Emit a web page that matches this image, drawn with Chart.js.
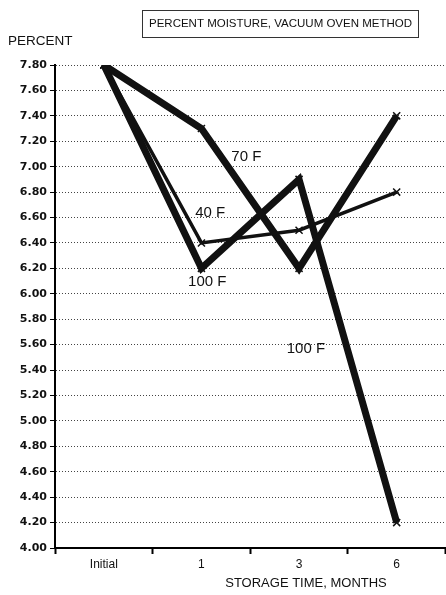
<!DOCTYPE html>
<html>
<head>
<meta charset="utf-8">
<script src="https://cdn.jsdelivr.net/npm/chart.js@4.4.1/dist/chart.umd.min.js"></script>
<style>
  html, body { margin: 0; padding: 0; background: #fff; overflow: hidden; }
  #wrap { width: 446px; height: 595px; overflow: hidden; }
  #chart { display: block; }
</style>
</head>
<body>
<div id="wrap"><canvas id="chart" width="452" height="595"></canvas></div>
<script>
// Chart data
var months = ["Initial", "1", "3", "6"];
var temp40 = [7.80, 6.40, 6.50, 6.80];
var temp70 = [7.80, 7.30, 6.20, 7.40];
var temp100 = [7.80, 6.20, 6.90, 4.20];

// in-chart labels: [text, category position, percent value]
var seriesLabels = [
    ["70 F", 1.46, 7.08],
    ["40 F", 1.09, 6.64],
    ["100 F", 1.06, 6.09],
    ["100 F", 2.07, 5.57]
];

// Extra text: box title, y label, x axis title, series labels
var textPlugin = {
    id: 'textPlugin',
    afterDraw: function(chart) {
        var c = chart.ctx;
        var xs = chart.scales.x, ys = chart.scales.y;
        c.save();
        c.fillStyle = '#111';
        c.textBaseline = 'middle';

        // title box
        c.strokeStyle = '#333';
        c.lineWidth = 1;
        c.strokeRect(142.5, 10.5, 276, 27);
        c.font = '11.5px "Liberation Sans", Arial, sans-serif';
        c.textAlign = 'left';
        c.fillText('PERCENT MOISTURE, VACUUM OVEN METHOD', 149, 24);

        c.font = '13.5px "Liberation Sans", Arial, sans-serif';
        c.fillText('PERCENT', 8, 41);

        c.font = '13px "Liberation Sans", Arial, sans-serif';
        c.textAlign = 'center';
        c.fillText('STORAGE TIME, MONTHS', 306, 583);

        c.font = '15px "Liberation Sans", Arial, sans-serif';
        seriesLabels.forEach(function(l) {
            var x0 = xs.getPixelForValue(Math.floor(l[1]));
            var x1 = xs.getPixelForValue(Math.floor(l[1]) + 1);
            var px = x0 + (x1 - x0) * (l[1] - Math.floor(l[1]));
            c.fillText(l[0], px, ys.getPixelForValue(l[2]));
        });
        c.restore();
    }
};

var ctx = document.getElementById('chart');

var config = {
    type: 'line',
    data: {
        labels: months,
        datasets: [{
            label: '40 F',
            data: temp40,
            borderColor: '#111',
            borderWidth: 3.5,
            pointStyle: 'crossRot',
            pointRadius: 5,
            pointBorderWidth: 1.5,
            pointBorderColor: '#111',
            tension: 0
        }, {
            label: '70 F',
            data: temp70,
            borderColor: '#111',
            borderWidth: 7,
            pointStyle: 'crossRot',
            pointRadius: 5,
            pointBorderWidth: 1.5,
            pointBorderColor: '#111',
            tension: 0
        }, {
            label: '100 F',
            data: temp100,
            borderColor: '#111',
            borderWidth: 7,
            pointStyle: 'crossRot',
            pointRadius: 5,
            pointBorderWidth: 1.5,
            pointBorderColor: '#111',
            tension: 0
        }]
    },
    options: {
        responsive: false,
        animation: false,
        layout: { padding: { top: 65, left: 0, right: 0, bottom: 0 } },
        plugins: { legend: { display: false }, tooltip: { enabled: false } },
        scales: {
            x: {
                offset: true,
                afterFit: function(s) { s.height = 47; },
                border: { display: true, color: '#000', width: 2 },
                grid: {
                    offset: true,
                    drawOnChartArea: false,
                    drawTicks: true,
                    tickLength: 6,
                    tickColor: '#000',
                    tickWidth: 2
                },
                ticks: {
                    color: '#111',
                    padding: 3,
                    font: { family: '"Liberation Sans", Arial, sans-serif', size: 12 }
                }
            },
            y: {
                min: 4,
                max: 7.8,
                afterFit: function(s) { s.width = 55; },
                border: { display: true, color: '#000', width: 2, dash: [1, 2] },
                grid: {
                    color: '#444',
                    lineWidth: 1,
                    tickBorderDash: [],
                    tickColor: '#000',
                    tickLength: 5
                },
                ticks: {
                    stepSize: 0.2,
                    color: '#111',
                    padding: 3,
                    font: { family: '"DejaVu Sans", sans-serif', size: 11, weight: 'bold' },
                    callback: function(v) { return Number(v).toFixed(2); }
                }
            }
        }
    },
    plugins: [textPlugin]
};

var moistureChart = new Chart(ctx, config);
</script>
</body>
</html>
